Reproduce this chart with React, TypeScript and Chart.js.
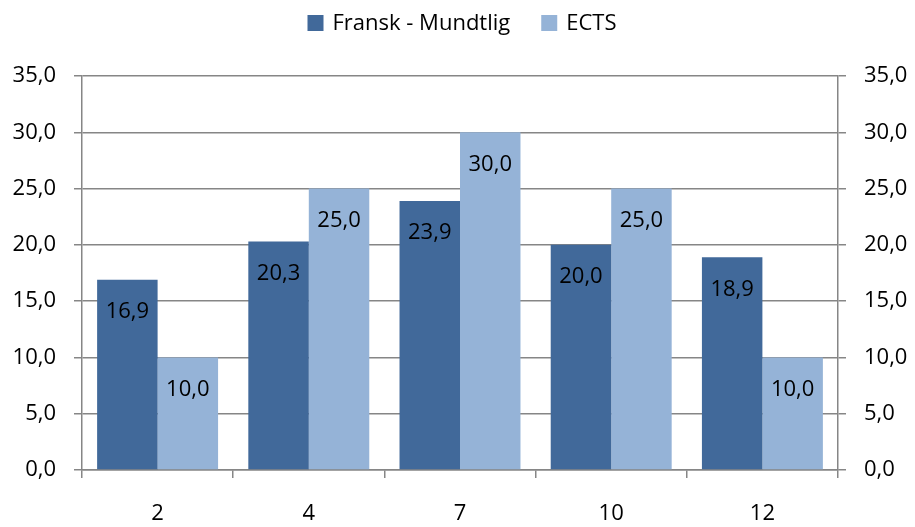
import React, { useEffect, useRef } from "react";
import { Chart, registerables } from "chart.js";

Chart.register(...registerables);

const categories = ["2", "4", "7", "10", "12"];
const seriesNames = ["Fransk - Mundtlig", "ECTS"];
const fransk = [16.9, 20.3, 23.9, 20.0, 18.9];
const ects = [10.0, 25.0, 30.0, 25.0, 10.0];
const yMin = 0;
const yMax = 35;
const yStep = 5;

const DARK = "#41699A";
const LIGHT = "#95B3D7";
const GRID = "#868686";
const FONT = "'Open Sans', sans-serif";

const fmt = (v: number) => v.toFixed(1).replace(".", ",");

const labelPlugin = {
  id: "barLabels",
  afterDatasetsDraw(chart: any) {
    const ctx = chart.ctx;
    ctx.save();
    ctx.font = `22px ${FONT}`;
    ctx.fillStyle = "#000";
    ctx.textAlign = "center";
    ctx.textBaseline = "middle";
    chart.data.datasets.forEach((ds: any, di: number) => {
      const meta = chart.getDatasetMeta(di);
      meta.data.forEach((bar: any, i: number) => {
        ctx.fillText(fmt(ds.data[i]), bar.x, bar.y + 32);
      });
    });
    ctx.restore();
  },
};

const legendPlugin = {
  id: "customLegend",
  afterDraw(chart: any) {
    const ctx = chart.ctx;
    ctx.save();
    ctx.font = `22px ${FONT}`;
    const box = 16;
    const gapBox = 9;
    const gapItem = 31;
    const items = chart.data.datasets.map((ds: any) => ({
      label: ds.label,
      color: ds.backgroundColor,
      w: ctx.measureText(ds.label).width,
    }));
    const total =
      items.reduce((s: number, it: any) => s + box + gapBox + it.w, 0) +
      gapItem * (items.length - 1);
    let x = 462 - total / 2;
    const cy = 23;
    ctx.textBaseline = "middle";
    ctx.textAlign = "left";
    items.forEach((it: any) => {
      ctx.fillStyle = it.color;
      ctx.fillRect(x, cy - box / 2, box, box);
      x += box + gapBox;
      ctx.fillStyle = "#000";
      ctx.fillText(it.label, x, cy + 1);
      x += it.w + gapItem;
    });
    ctx.restore();
  },
};

export default function App() {
  const ref = useRef<HTMLCanvasElement>(null);
  useEffect(() => {
    if (!ref.current) return;
    const tickFont = { family: FONT, size: 22 };
    const chart = new Chart(ref.current, {
      type: "bar",
      data: {
        labels: categories,
        datasets: [
          {
            label: seriesNames[0],
            data: fransk,
            backgroundColor: DARK,
            categoryPercentage: 0.8,
            barPercentage: 1.0,
            yAxisID: "y",
          },
          {
            label: seriesNames[1],
            data: ects,
            backgroundColor: LIGHT,
            categoryPercentage: 0.8,
            barPercentage: 1.0,
            yAxisID: "y",
          },
        ],
      },
      options: {
        responsive: true,
        maintainAspectRatio: false,
        animation: false,
        layout: { padding: { top: 76, left: 0, right: 0, bottom: 0 } },
        plugins: {
          legend: { display: false },
          tooltip: { enabled: false },
          title: { display: false },
        },
        scales: {
          x: {
            grid: {
              offset: true,
              drawOnChartArea: false,
              drawTicks: true,
              tickLength: 8,
              color: GRID,
              lineWidth: 1.5,
            },
            border: { display: true, color: GRID, width: 1.5 },
            ticks: { color: "#000", font: tickFont, padding: 23 },
            afterFit: (s: any) => {
              s.height = 57;
            },
          },
          y: {
            position: "left",
            min: yMin,
            max: yMax,
            ticks: {
              stepSize: yStep,
              color: "#000",
              font: tickFont,
              padding: 18,
              callback: (v: any) => fmt(Number(v)),
            },
            grid: { color: GRID, tickLength: 8, lineWidth: 1.5 },
            border: { display: true, color: GRID, width: 1.5 },
            afterFit: (s: any) => {
              s.width = 82;
            },
          },
          y2: {
            position: "right",
            min: yMin,
            max: yMax,
            ticks: {
              stepSize: yStep,
              color: "#000",
              font: tickFont,
              padding: 18,
              callback: (v: any) => fmt(Number(v)),
            },
            grid: { drawOnChartArea: false, color: GRID, tickLength: 8, lineWidth: 1.5 },
            border: { display: true, color: GRID, width: 1.5 },
            afterFit: (s: any) => {
              s.width = 77;
            },
          },
        },
      },
      plugins: [labelPlugin, legendPlugin],
    });
    return () => chart.destroy();
  }, []);
  return (
    <div
      style={{
        position: "fixed",
        left: 0,
        top: 0,
        width: 915,
        height: 527,
        background: "#fff",
      }}
    >
      <canvas ref={ref} />
    </div>
  );
}
